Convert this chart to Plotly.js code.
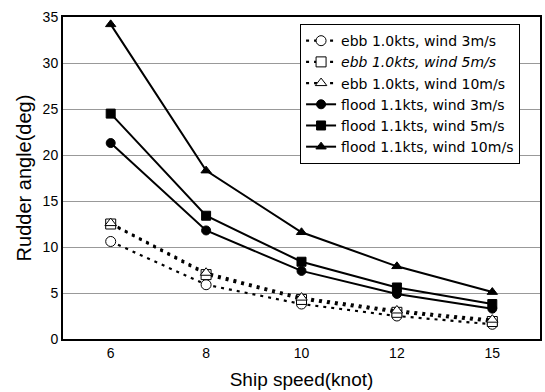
<!DOCTYPE html>
<html><head><meta charset="utf-8">
<script src="https://cdn.plot.ly/plotly-3.0.1.min.js"></script>
<style>body{margin:0;background:#fff}#c{width:545px;height:392px}</style>
</head><body><div id="c"></div>
<script>
const speeds = ["6", "8", "10", "12", "15"];
const ebb3 = [10.6, 5.9, 3.8, 2.5, 1.6];
const ebb5 = [12.5, 7.0, 4.3, 2.9, 1.9];
const ebb10 = [12.6, 7.2, 4.5, 3.1, 2.1];
const flood3 = [21.3, 11.8, 7.4, 4.9, 3.3];
const flood5 = [24.5, 13.4, 8.4, 5.6, 3.8];
const flood10 = [34.2, 18.3, 11.6, 7.9, 5.1];
const names = ["ebb 1.0kts, wind 3m/s", "<i>ebb 1.0kts, wind 5m/s</i>", "ebb 1.0kts, wind 10m/s",
  "flood 1.1kts, wind 3m/s", "flood 1.1kts, wind 5m/s", "flood 1.1kts, wind 10m/s"];

function tr(y, name, sym, open) {
  return {x: speeds, y: y, name: name, type: 'scatter', mode: 'lines+markers',
    line: {color: '#000', width: open ? 2.2 : 2, dash: open ? '3px,5px' : 'solid'},
    marker: {symbol: sym, size: open ? 10 : 9, color: open ? '#fff' : '#000',
      line: {color: '#000', width: 1}}};
}
const data = [
  tr(ebb3, names[0], 'circle', true),
  tr(ebb5, names[1], 'square', true),
  tr(ebb10, names[2], 'triangle-up', true),
  tr(flood3, names[3], 'circle'),
  tr(flood5, names[4], 'square'),
  tr(flood10, names[5], 'triangle-up')
];
const layout = {
  width: 545, height: 392,
  margin: {l: 63, r: 5, t: 17, b: 53},
  paper_bgcolor: '#fff', plot_bgcolor: '#fff',
  font: {family: 'Liberation Sans, Arial, sans-serif', color: '#000'},
  showlegend: true,
  legend: {x: 0.497, y: 0.978, xanchor: 'left', yanchor: 'top', bgcolor: '#fff',
    bordercolor: '#000', borderwidth: 1, font: {size: 14, family: 'DejaVu Sans'}, tracegroupgap: 0,
    itemwidth: 30},
  xaxis: {type: 'category', range: [-0.5, 4.5], showline: true, linecolor: '#000', linewidth: 2,
    mirror: true, showgrid: false, ticks: '', tickfont: {size: 14},
    title: {text: 'Ship speed(knot)', font: {size: 19}, standoff: 13}},
  yaxis: {range: [0, 35], dtick: 5, showline: true, linecolor: '#000', linewidth: 2,
    mirror: true, showgrid: true, gridcolor: '#999', gridwidth: 1, zeroline: false,
    ticks: '', tickfont: {size: 14},
    title: {text: 'Rudder angle(deg)', font: {size: 20}, standoff: 6}}
};
Plotly.newPlot('c', data, layout, {staticPlot: true});
</script></body></html>
